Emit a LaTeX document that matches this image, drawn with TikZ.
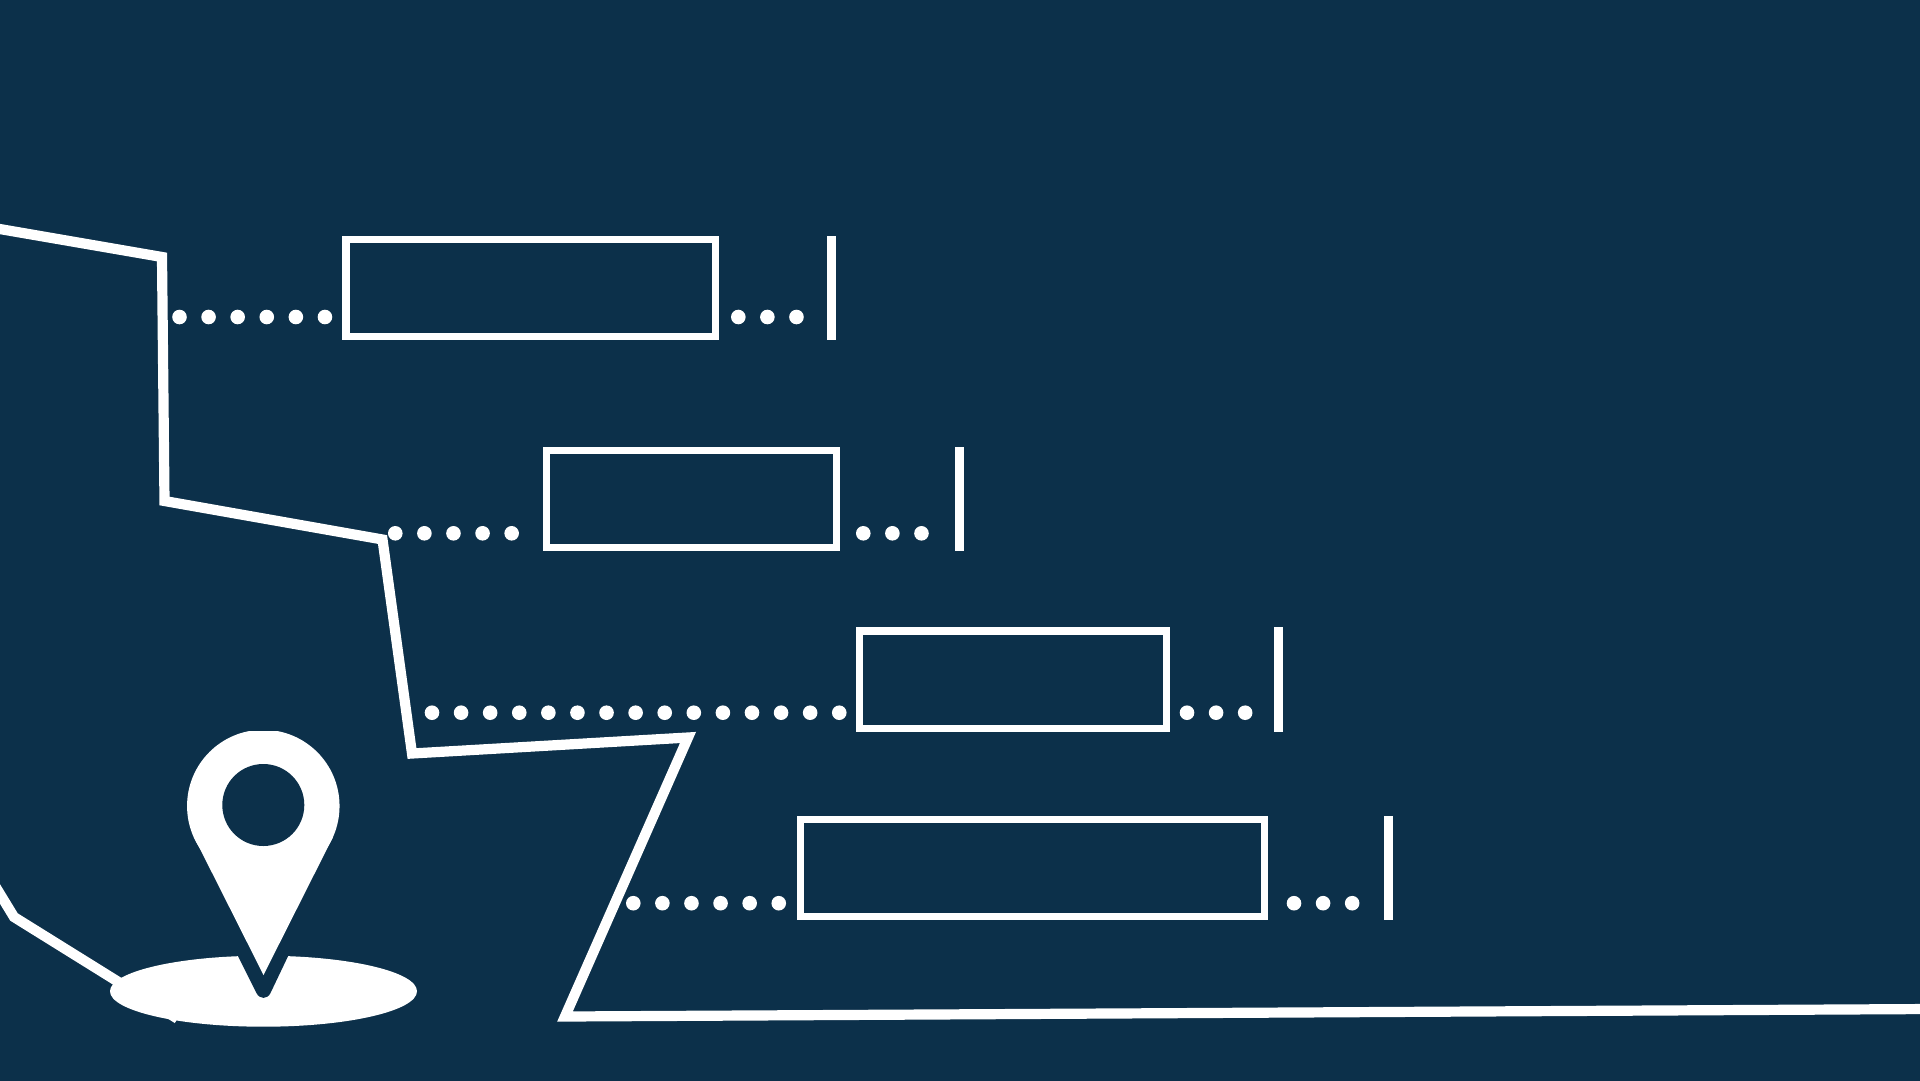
\documentclass[tikz,border=0pt]{standalone}
\usepackage{tikz}
\usetikzlibrary{shapes.geometric}

\definecolor{bgblue}{HTML}{0C304A}

\tikzset{
    routeline/.style={draw=white, line width=10.2pt, line join=miter},
    slotbox/.style={draw=white, line width=7.2pt, inner sep=0pt, minimum height=97.4pt},
    endbar/.style={fill=white, inner sep=0pt, minimum width=8.7pt, minimum height=104.6pt},
    dotmark/.style={circle, fill=white, inner sep=0pt, minimum size=14.6pt},
    pinpart/.style={circle, inner sep=0pt}
}

\begin{document}
    \begin{tikzpicture}[x=1pt, y=-1pt]
        \useasboundingbox (0,0) rectangle (1920,1080);
        \clip (-4,-4) rectangle (1924,1084);
        \fill[bgblue] (-4,-4) rectangle (1924,1084);

        \coordinate (r0) at (-20,225.6);
        \coordinate (r1) at (162,257);
        \coordinate (r2) at (164.5,501);
        \coordinate (r3) at (382.5,539.5);
        \coordinate (r4) at (412,753.5);
        \coordinate (r5) at (688,737.5);
        \coordinate (r6) at (565,1016.5);
        \coordinate (r7) at (1930,1009);
        \draw[routeline] (r0) -- (r1) -- (r2) -- (r3) -- (r4) -- (r5) -- (r6) -- (r7);

        \coordinate (s0) at (-10,877.6);
        \coordinate (s1) at (14,917);
        \coordinate (s2) at (177.5,1018.7);
        \draw[routeline] (s0) -- (s1) -- (s2);

        \node[slotbox, minimum width=369.2pt] (slotA) at (530.5,287.8) {};
        \node[slotbox, minimum width=289.8pt] (slotB) at (691.2,499.1) {};
        \node[slotbox, minimum width=306.8pt] (slotC) at (1012.7,679.7) {};
        \node[slotbox, minimum width=464.1pt] (slotD) at (1032.4,868.1) {};

        \node[endbar] (barA) at (831.3,287.8) {};
        \node[endbar] (barB) at (959.3,499.1) {};
        \node[endbar] (barC) at (1278.6,679.7) {};
        \node[endbar] (barD) at (1388.7,868.1) {};

        % dots before each box
        \foreach \rowid/\rowy/\startx/\last in {A/317/179.5/5, B/533.3/395.3/4, C/712.7/432/14, D/903.2/633.3/5}
            \foreach \i in {0,...,\last}
                \node[dotmark] (lead\rowid\i) at ({\startx+29.09*\i},\rowy) {};
        % dots after each box
        \foreach \rowid/\rowy/\startx in {A/317/738.3, B/533.3/863.3, C/712.7/1187, D/903.2/1294}
            \foreach \i in {0,1,2}
                \node[dotmark] (tail\rowid\i) at ({\startx+29.09*\i},\rowy) {};

        \node[ellipse, fill=white, inner sep=0pt, minimum width=307pt, minimum height=71pt] (pinbase) at (263.5,991.2) {};
        \fill[bgblue] (235,950) -- (256.5,993) .. controls (259.5,999.5) and (267.5,999.5) .. (270.5,993) -- (291,950) -- cycle;

        \node[pinpart, fill=white, minimum size=152.5pt] (pinhead) at (263.3,806) {};
        \fill[bgblue] (240,725) rectangle (287,731.2);
        \coordinate (pintip) at (263.5,975);
        \fill[white] (194,837) -- (pintip) -- (333,837) -- (pinhead.center) -- cycle;
        \node[pinpart, fill=bgblue, minimum size=82pt] (pinhole) at (263.3,805) {};
    \end{tikzpicture}
\end{document}
